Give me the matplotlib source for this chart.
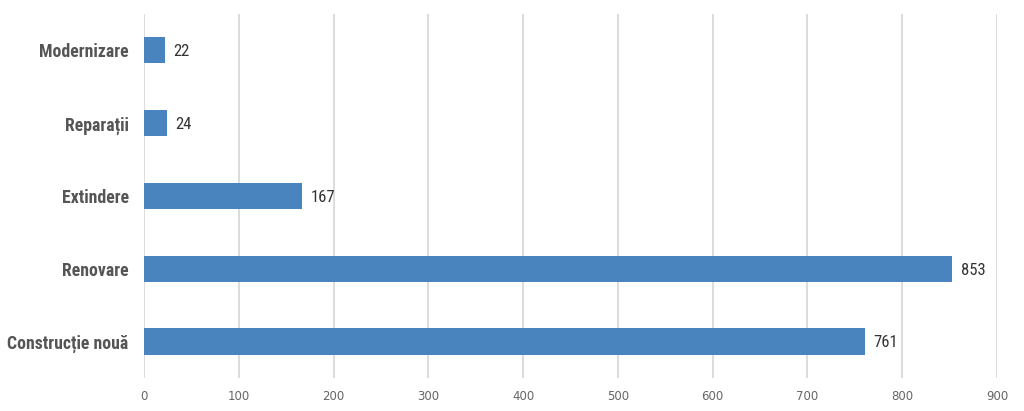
import matplotlib
matplotlib.use("Agg")
import matplotlib.pyplot as plt

categories = ["Construcție nouă", "Renovare", "Extindere", "Reparații", "Modernizare"]
values = [761, 853, 167, 24, 22]
xticks = [0, 100, 200, 300, 400, 500, 600, 700, 800, 900]

narrow = ["Roboto Condensed", "DejaVu Sans"]

fig = plt.figure(figsize=(10.24, 4.11), dpi=100)
ax = fig.add_axes([0.1406, 0.0803, 0.8330, 0.8857])

ax.barh(range(len(categories)), values, height=0.36, color="#4a84be", zorder=3)
for i, v in enumerate(values):
    ax.annotate(str(v), (v, i), xytext=(6, -1), textcoords="offset points",
                va="center", ha="left", fontsize=12, family=narrow, color="#333333")

ax.set_xlim(0, 900)
ax.set_ylim(-0.5, len(categories) - 0.5)
ax.set_xticks(xticks)
ax.set_yticks(range(len(categories)))
ax.set_yticklabels(categories, family=narrow, fontweight="bold", fontsize=12.8, color="#555555")
ax.tick_params(axis="x", labelsize=8.5, labelcolor="#666666", length=0, pad=9)
ax.tick_params(axis="y", length=0, pad=11)
ax.grid(axis="x", color="#d9d9d9", linewidth=1.3, zorder=0)
for s in ax.spines.values():
    s.set_visible(False)

fig.savefig("out.png", dpi=100)
